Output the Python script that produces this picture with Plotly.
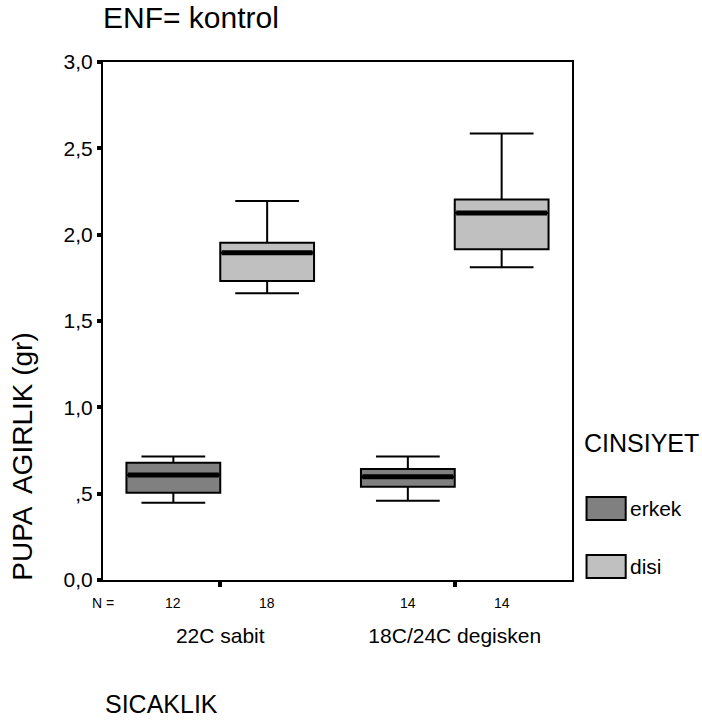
import plotly.graph_objects as go

# ---- data ----
categories = ["22C sabit", "18C/24C degisken"]
groups = ["erkek", "disi"]
n_counts = {"erkek": [12, 14], "disi": [18, 14]}
lower_whisker = {"erkek": [0.447, 0.459], "disi": [1.66, 1.812]}
q1_vals = {"erkek": [0.506, 0.54], "disi": [1.731, 1.915]}
median_vals = {"erkek": [0.608, 0.598], "disi": [1.895, 2.125]}
q3_vals = {"erkek": [0.679, 0.643], "disi": [1.953, 2.204]}
upper_whisker = {"erkek": [0.715, 0.715], "disi": [2.195, 2.586]}
ytick_vals = [0.0, 0.5, 1.0, 1.5, 2.0, 2.5, 3.0]
ytick_text = ["0,0", ",5", "1,0", "1,5", "2,0", "2,5", "3,0"]

colors = {"erkek": "#808080", "disi": "#c0c0c0"}
offsets = {"erkek": -0.2, "disi": 0.2}
box_w = 0.4
FONT = "Arial, Liberation Sans, sans-serif"

fig = go.Figure()
for g in groups:
    xs = [i + offsets[g] for i in range(len(categories))]
    fig.add_trace(go.Box(
        x=xs, q1=q1_vals[g], median=median_vals[g], q3=q3_vals[g],
        lowerfence=lower_whisker[g], upperfence=upper_whisker[g],
        width=box_w, whiskerwidth=0.68,
        fillcolor=colors[g], line=dict(color="black", width=2),
        name=g, showlegend=False, hoverinfo="skip", boxpoints=False,
    ))
    mx, my = [], []
    for x, m in zip(xs, median_vals[g]):
        mx += [x - box_w / 2 + 0.006, x + box_w / 2 - 0.006, None]
        my += [m, m, None]
    fig.add_trace(go.Scatter(x=mx, y=my, mode="lines",
                             line=dict(color="black", width=5),
                             showlegend=False, hoverinfo="skip"))

# N labels
fig.add_annotation(x=0, xref="paper", y=-0.0444, yref="paper", text="N =",
                   showarrow=False, xanchor="center", yanchor="middle",
                   font=dict(size=14, family=FONT, color="black"))
for g in groups:
    for i, n in enumerate(n_counts[g]):
        fig.add_annotation(x=i + offsets[g], y=-0.0444, yref="paper",
                           text=str(n), showarrow=False, yanchor="middle",
                           font=dict(size=14, family=FONT, color="black"))

# legend (manual)
fig.add_annotation(x=1.0206, xref="paper", y=0.2645, yref="paper",
                   text="CINSIYET", showarrow=False, xanchor="left", yanchor="middle",
                   font=dict(size=25, family=FONT, color="black"))
legend_y = {"erkek": 0.138, "disi": 0.026}
for g in groups:
    yc = legend_y[g]
    fig.add_shape(type="rect", xref="paper", yref="paper",
                  x0=1.031, x1=1.1145, y0=yc - 0.0222, y1=yc + 0.0222,
                  fillcolor=colors[g], line=dict(color="black", width=2))
    fig.add_annotation(x=1.1195, xref="paper", y=yc, yref="paper",
                       text=g, showarrow=False, xanchor="left", yanchor="middle",
                       font=dict(size=21, family=FONT, color="black"))

# axis titles
fig.add_annotation(x=-0.1706, xref="paper", y=0.238, yref="paper",
                   text="PUPA  AGIRLIK (gr)", textangle=-90, showarrow=False,
                   xanchor="center", yanchor="middle",
                   font=dict(size=28, family=FONT, color="black"))
fig.add_annotation(x=0, xref="paper", y=-0.239, yref="paper",
                   text="SICAKLIK", showarrow=False, xanchor="left", yanchor="middle",
                   font=dict(size=25, family=FONT, color="black"))

fig.update_layout(
    width=702, height=724,
    margin=dict(l=103, r=130, t=62, b=144),
    paper_bgcolor="white", plot_bgcolor="white",
    font=dict(family=FONT, color="black"),
    title=dict(text="ENF= kontrol", x=103 / 702, xanchor="left",
               y=1 - 17 / 724, yanchor="middle",
               font=dict(size=30, family=FONT, color="black")),
    showlegend=False,
)

fig.update_xaxes(range=[-0.5, 1.5], tickvals=[0, 1], ticktext=categories,
                 ticks="outside", ticklen=5, tickwidth=4, tickcolor="black",
                 ticklabelstandoff=31,
                 showline=True, linecolor="black", linewidth=2, mirror=True,
                 showgrid=False, zeroline=False,
                 tickfont=dict(size=21, family=FONT, color="black"))
fig.update_yaxes(range=[0, 3.0], tickvals=ytick_vals, ticktext=ytick_text,
                 ticks="outside", ticklen=4, tickwidth=4, tickcolor="black",
                 showline=True, linecolor="black", linewidth=2, mirror=True,
                 showgrid=False, zeroline=False,
                 tickfont=dict(size=21, family=FONT, color="black"))

fig.write_html("out.html")
